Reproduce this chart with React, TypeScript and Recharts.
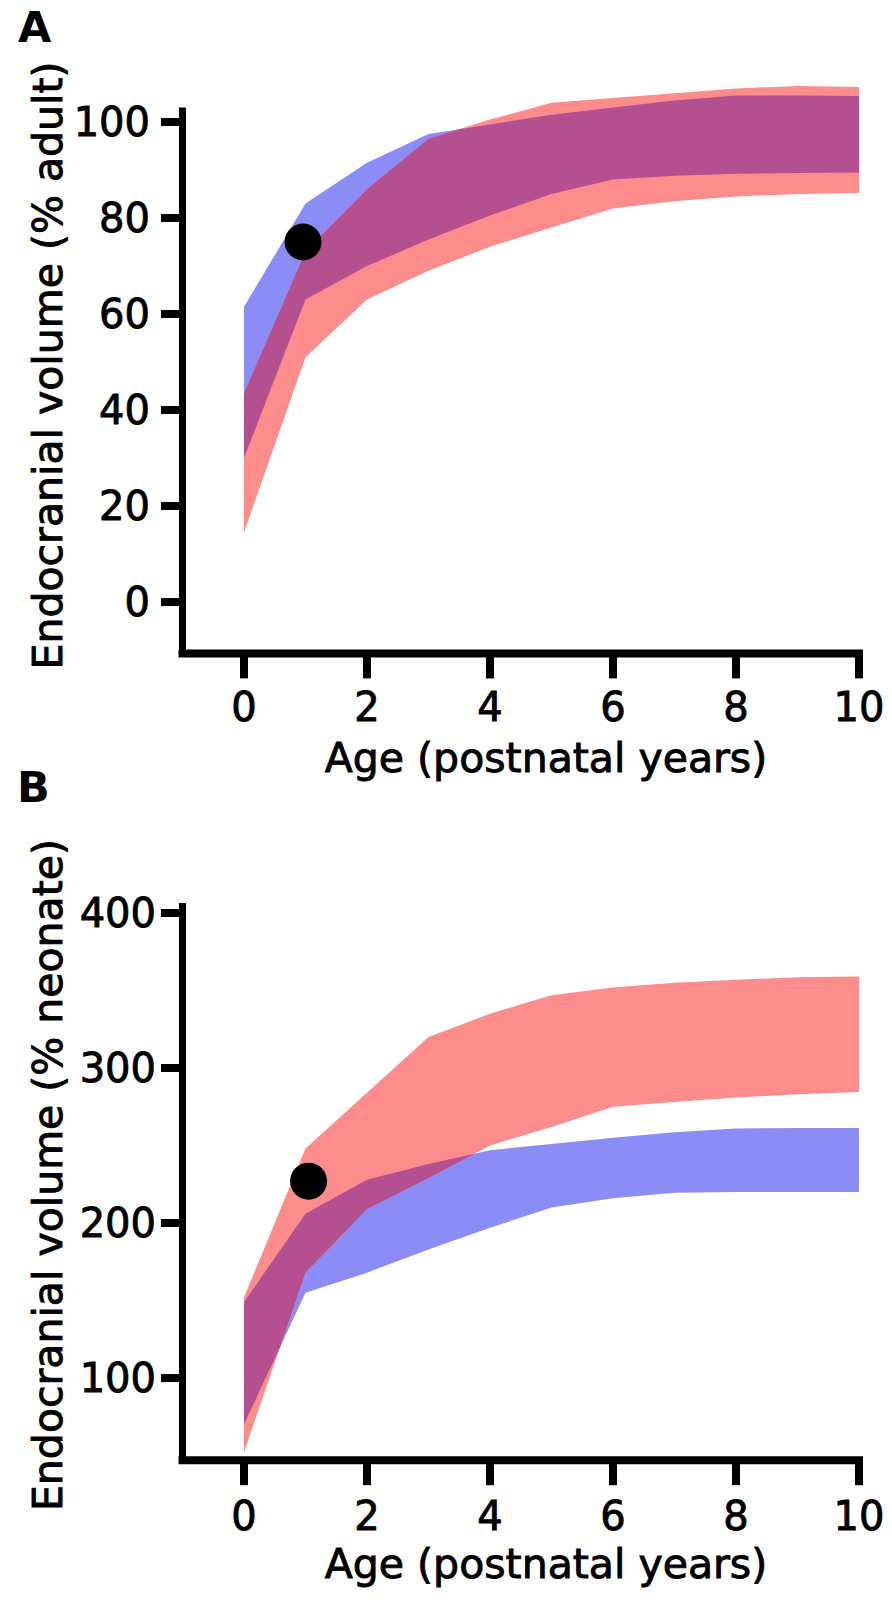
import React from "react";
import {
  ComposedChart,
  Area,
  XAxis,
  YAxis,
  ReferenceLine,
  ReferenceDot,
} from "recharts";

// ---------- data ----------
const AGES = [0, 1, 2, 3, 4, 5, 6, 7, 8, 9, 10];
const X_TICKS = [0, 2, 4, 6, 8, 10];

// Panel A: % adult
const A_Y_TICKS = [0, 20, 40, 60, 80, 100];
const A_BLUE_LOW = [30, 63, 70, 75.5, 80.5, 85, 88, 88.8, 89.2, 89.4, 89.5];
const A_BLUE_HIGH = [61.5, 83, 91.5, 97.5, 99.5, 101.5, 103, 104.5, 105.5, 105.5, 105.4];
const A_PINK_LOW = [14.5, 51, 63, 69, 74, 78, 82, 83.5, 84.5, 85, 85.2];
const A_PINK_HIGH = [43.5, 73, 86, 96.5, 100.5, 104, 105, 106, 107, 107.5, 107.3];
const A_DOT = { age: 0.96, value: 75 };

// Panel B: % neonate
const B_Y_TICKS = [100, 200, 300, 400];
const B_BLUE_LOW = [70, 155, 168, 183, 197, 210, 216, 219.5, 220, 220, 220];
const B_BLUE_HIGH = [149, 206, 228, 238, 247, 251, 255, 258.5, 261, 261.3, 261.3];
const B_PINK_LOW = [52, 168, 209, 229, 250, 262, 275, 278, 281, 283, 284.5];
const B_PINK_HIGH = [152, 248, 284, 320, 335, 347, 352, 355, 357, 358.5, 359];
const B_DOT = { age: 1.05, value: 227 };

// ---------- styles ----------
const BLUE = "#8c8cf6";
const PINK = "#fd8d8d";
const PURPLE = "#b4508f";
const FONT = "'DejaVu Sans', sans-serif";

// ---------- helpers ----------
const band = (lo: number[], hi: number[]) =>
  AGES.map((x, i) => ({ x, range: [lo[i], hi[i]] }));

// region where the two bands overlap (exact, piecewise linear)
function overlapBand(
  xs: number[],
  bLo: number[],
  bHi: number[],
  pLo: number[],
  pHi: number[]
) {
  const out: { x: number; range: number[] }[] = [];
  const at = (arr: number[], i: number, u: number) =>
    arr[i] + u * (arr[i + 1] - arr[i]);
  const pushPoint = (x: number, bl: number, bh: number, pl: number, ph: number) => {
    const bottom = Math.max(bl, pl);
    let top = Math.min(bh, ph);
    if (top < bottom) top = bottom;
    out.push({ x, range: [bottom, top] });
  };
  for (let i = 0; i < xs.length - 1; i++) {
    const cuts = [0];
    const pairs: [number[], number[]][] = [
      [bHi, pHi],
      [bLo, pLo],
      [bHi, pLo],
      [pHi, bLo],
    ];
    for (const [f, g] of pairs) {
      const d0 = f[i] - g[i];
      const d1 = f[i + 1] - g[i + 1];
      if (d0 * d1 < 0) cuts.push(d0 / (d0 - d1));
    }
    cuts.sort((a, b) => a - b);
    for (const u of cuts) {
      pushPoint(
        xs[i] + u * (xs[i + 1] - xs[i]),
        at(bLo, i, u),
        at(bHi, i, u),
        at(pLo, i, u),
        at(pHi, i, u)
      );
    }
  }
  const n = xs.length - 1;
  pushPoint(xs[n], bLo[n], bHi[n], pLo[n], pHi[n]);
  return out;
}

type PanelProps = {
  height: number;
  marginTop: number;
  marginBottom: number;
  yDomain: [number, number];
  yTicks: number[];
  yAxisTop: number;
  blueLo: number[];
  blueHi: number[];
  pinkLo: number[];
  pinkHi: number[];
  dot: { age: number; value: number };
  yTickMargin: number;
  xTickMargin: number;
};

function Panel(p: PanelProps) {
  const blue = band(p.blueLo, p.blueHi);
  const pink = band(p.pinkLo, p.pinkHi);
  const both = overlapBand(AGES, p.blueLo, p.blueHi, p.pinkLo, p.pinkHi);
  const tickStyle = {
    fill: "#000",
    fontSize: 40,
    fontFamily: FONT,
    stroke: "#000",
    strokeWidth: 0.9,
  };
  return (
    <ComposedChart
      width={892}
      height={p.height}
      margin={{ top: p.marginTop, right: 33, bottom: p.marginBottom, left: 82.5 }}
    >
      <XAxis
        type="number"
        dataKey="x"
        domain={[-1, 10]}
        ticks={X_TICKS}
        interval={0}
        allowDataOverflow
        height={100}
        axisLine={{ stroke: "#000", strokeWidth: 8, strokeLinecap: "square" }}
        tickLine={{ stroke: "#000", strokeWidth: 8 }}
        tickSize={25}
        tickMargin={p.xTickMargin}
        tick={tickStyle}
      />
      <YAxis
        type="number"
        domain={p.yDomain}
        ticks={p.yTicks}
        interval={0}
        allowDataOverflow
        width={100}
        axisLine={false}
        tickLine={{ stroke: "#000", strokeWidth: 8 }}
        tickSize={21.5}
        tickMargin={p.yTickMargin}
        tick={tickStyle}
      />
      <Area
        data={blue}
        dataKey="range"
        type="linear"
        fill={BLUE}
        fillOpacity={1}
        stroke="none"
        dot={false}
        activeDot={false}
        isAnimationActive={false}
      />
      <Area
        data={pink}
        dataKey="range"
        type="linear"
        fill={PINK}
        fillOpacity={1}
        stroke="none"
        dot={false}
        activeDot={false}
        isAnimationActive={false}
      />
      <Area
        data={both}
        dataKey="range"
        type="linear"
        fill={PURPLE}
        fillOpacity={1}
        stroke="none"
        dot={false}
        activeDot={false}
        isAnimationActive={false}
      />
      <ReferenceLine
        segment={[
          { x: -1, y: p.yDomain[0] },
          { x: -1, y: p.yAxisTop },
        ]}
        stroke="#000"
        strokeWidth={7}
        ifOverflow="visible"
      />
      <ReferenceDot
        x={p.dot.age}
        y={p.dot.value}
        r={18.5}
        fill="#000"
        stroke="none"
        ifOverflow="visible"
      />
    </ComposedChart>
  );
}

export default function App() {
  return (
    <div
      style={{
        position: "absolute",
        left: 0,
        top: 0,
        width: 892,
        height: 1609,
        background: "#fff",
        fontFamily: FONT,
      }}
    >
      <div style={{ position: "absolute", left: 0, top: 0 }}>
        <Panel
          height={800}
          marginTop={74}
          marginBottom={46.6}
          yDomain={[-10.7, 110]}
          yTicks={A_Y_TICKS}
          yAxisTop={103}
          blueLo={A_BLUE_LOW}
          blueHi={A_BLUE_HIGH}
          pinkLo={A_PINK_LOW}
          pinkHi={A_PINK_HIGH}
          dot={A_DOT}
          yTickMargin={11}
          xTickMargin={14}
        />
      </div>
      <div style={{ position: "absolute", left: 0, top: 800 }}>
        <Panel
          height={809}
          marginTop={97.5}
          marginBottom={48.8}
          yDomain={[47, 410]}
          yTicks={B_Y_TICKS}
          yAxisTop={406.5}
          blueLo={B_BLUE_LOW}
          blueHi={B_BLUE_HIGH}
          pinkLo={B_PINK_LOW}
          pinkHi={B_PINK_HIGH}
          dot={B_DOT}
          yTickMargin={5}
          xTickMargin={16}
        />
      </div>
      <svg
        width={892}
        height={1609}
        style={{ position: "absolute", left: 0, top: 0, pointerEvents: "none" }}
      >
        <g fontFamily={FONT} fill="#000">
          <text x={18} y={42} fontSize={43} fontWeight="bold">
            A
          </text>
          <text x={17} y={802} fontSize={43} fontWeight="bold">
            B
          </text>
          <g stroke="#000" strokeWidth={0.9}>
            <text
              transform="translate(62,365.5) rotate(-90)"
              textAnchor="middle"
              fontSize={41}
            >
              Endocranial volume (% adult)
            </text>
            <text
              transform="translate(62,1175) rotate(-90)"
              textAnchor="middle"
              fontSize={41}
            >
              Endocranial volume (% neonate)
            </text>
            <text x={546} y={771.5} textAnchor="middle" fontSize={41}>
              Age (postnatal years)
            </text>
            <text x={546} y={1578} textAnchor="middle" fontSize={41}>
              Age (postnatal years)
            </text>
          </g>
        </g>
      </svg>
    </div>
  );
}
